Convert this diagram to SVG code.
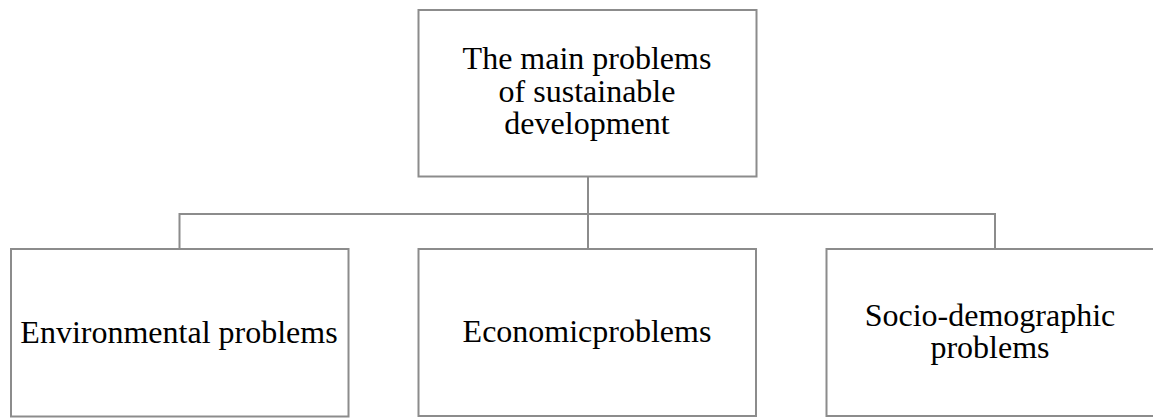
<svg xmlns="http://www.w3.org/2000/svg" width="1153" height="418" viewBox="0 0 1153 418">
<style>
.box{fill:#fff;stroke:#8c8c8c;stroke-width:2}
.ln{fill:none;stroke:#8c8c8c;stroke-width:2}
text{font-family:"Liberation Serif","Times New Roman",serif;font-size:32px;fill:#000;text-anchor:middle}
</style>
<rect width="1153" height="418" fill="#fff"/>
<g id="connectors">
<path class="ln" d="M588 177V214M179.5 249V214H995V249M588 214V249"/>
</g>
<g id="root">
<rect class="box" x="418.5" y="10" width="338" height="166.5"/>
<text x="587" y="69">The main problems</text>
<text x="587" y="101.5">of sustainable</text>
<text x="587" y="134">development</text>
</g>
<g id="environmental">
<rect class="box" x="11" y="249" width="337.5" height="167.5"/>
<text x="179" y="342.5">Environmental problems</text>
</g>
<g id="economic">
<rect class="box" x="418.5" y="249" width="337.5" height="167"/>
<text x="587" y="342">Economicproblems</text>
</g>
<g id="socio">
<rect class="box" x="826.5" y="249" width="340" height="167"/>
<text x="990" y="325.5">Socio-demographic</text>
<text x="990" y="358">problems</text>
</g>
</svg>
